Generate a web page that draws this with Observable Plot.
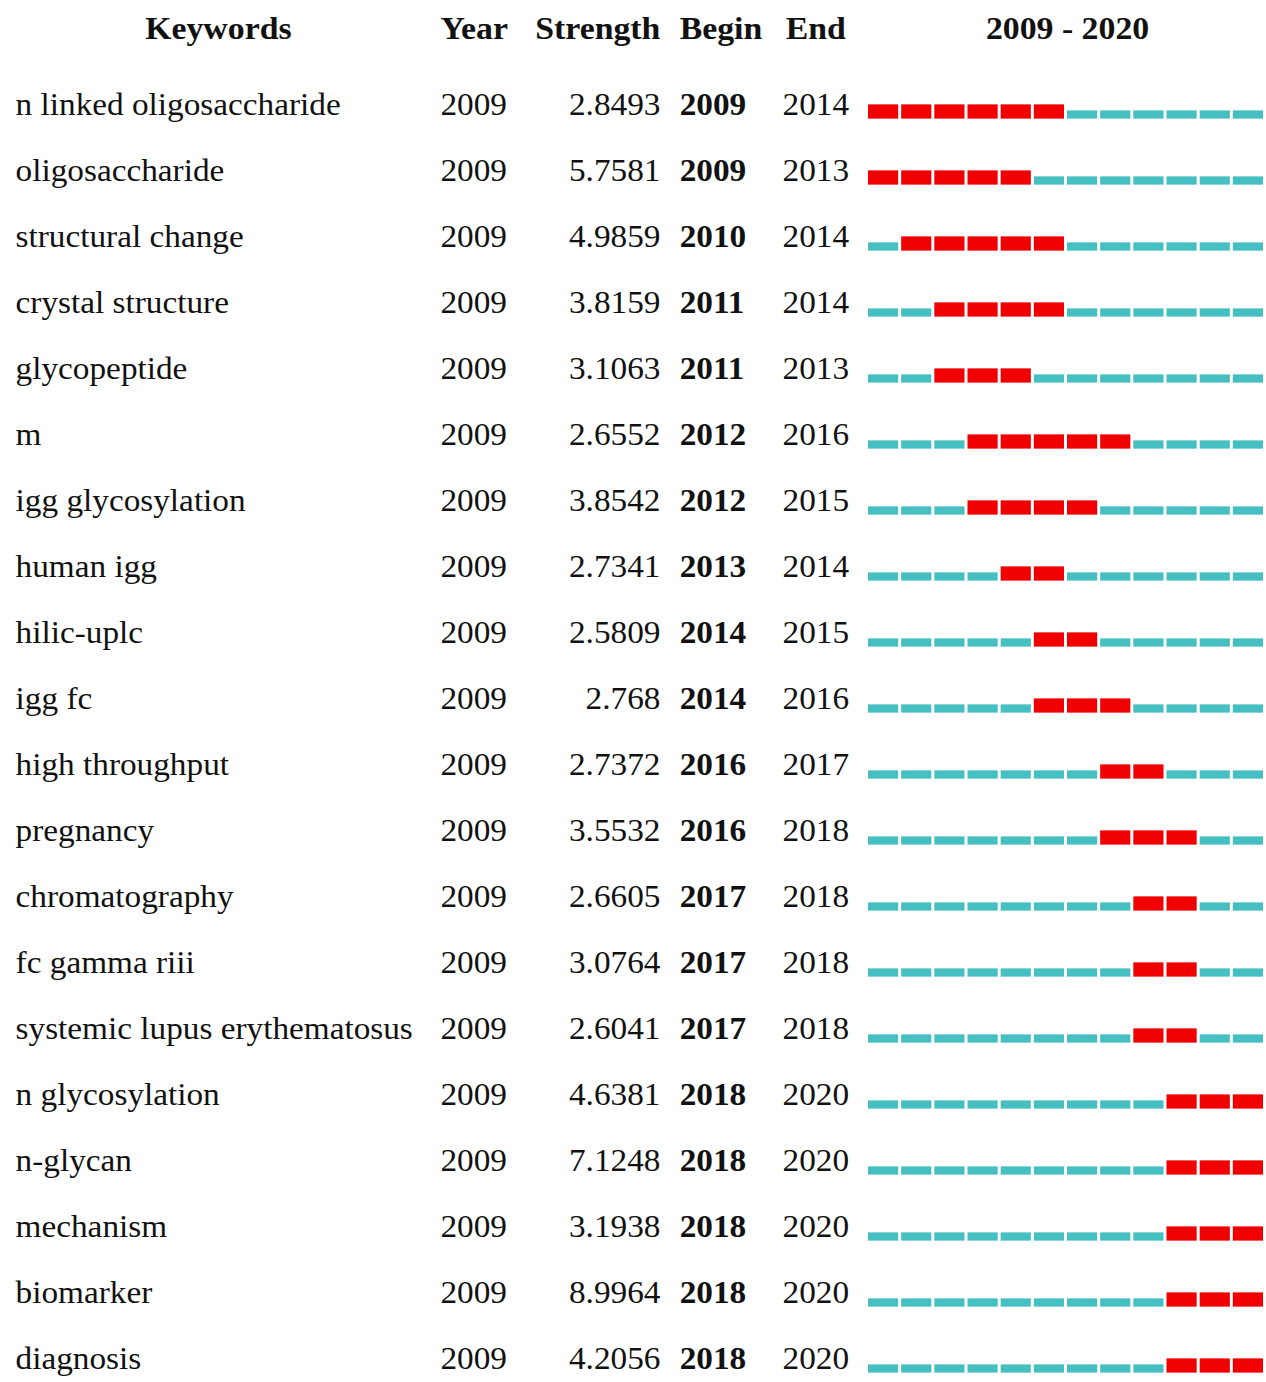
<!DOCTYPE html>
<html>
<head>
<meta charset="utf-8">
<script src="https://cdn.jsdelivr.net/npm/d3@7"></script>
<script src="https://cdn.jsdelivr.net/npm/@observablehq/plot@0.6"></script>
<style>
  html, body { margin: 0; padding: 0; background: #fff; }
  #chart svg { display: block; }
</style>
</head>
<body>
<div id="chart"></div>
<script>
// Keywords with the strongest citation bursts, 2009 - 2020
const keywords = [
  "n linked oligosaccharide", "oligosaccharide", "structural change", "crystal structure",
  "glycopeptide", "m", "igg glycosylation", "human igg", "hilic-uplc", "igg fc",
  "high throughput", "pregnancy", "chromatography", "fc gamma riii",
  "systemic lupus erythematosus", "n glycosylation", "n-glycan", "mechanism",
  "biomarker", "diagnosis"
];
const firstYears = [2009, 2009, 2009, 2009, 2009, 2009, 2009, 2009, 2009, 2009,
                    2009, 2009, 2009, 2009, 2009, 2009, 2009, 2009, 2009, 2009];
const strengths = [2.8493, 5.7581, 4.9859, 3.8159, 3.1063, 2.6552, 3.8542, 2.7341, 2.5809, 2.768,
                   2.7372, 3.5532, 2.6605, 3.0764, 2.6041, 4.6381, 7.1248, 3.1938, 8.9964, 4.2056];
const burstBegin = [2009, 2009, 2010, 2011, 2011, 2012, 2012, 2013, 2014, 2014,
                    2016, 2016, 2017, 2017, 2017, 2018, 2018, 2018, 2018, 2018];
const burstEnd = [2014, 2013, 2014, 2014, 2013, 2016, 2015, 2014, 2015, 2016,
                  2017, 2018, 2018, 2018, 2018, 2020, 2020, 2020, 2020, 2020];
const periodStart = 2009;
const periodEnd = 2020;
const headers = ["Keywords", "Year", "Strength", "Begin", "End"];

// one row per keyword
const rows = keywords.map((k, i) => ({
  keyword: k, year: firstYears[i], strength: strengths[i], begin: burstBegin[i], end: burstEnd[i]
}));

// one timeline cell per keyword and year; burst years are flagged
const years = d3.range(periodStart, periodEnd + 1);
const cells = rows.flatMap(r => years.map(y => ({
  keyword: r.keyword, year: y, burst: y >= r.begin && y <= r.end
})));

// layout (drawing units; the svg is widened slightly to the page width)
const pageW = 1266, pageH = 1382;
const stretch = 1.04;
const W = pageW / stretch;
const rowFirst = 107, rowPitch = 66.75;   // baseline of the first row, row spacing
const half = rowPitch / 2;
const font = "'Liberation Serif', 'Times New Roman', serif";
const ink = "#111";
const fs = 32, hfs = 32.5;
const col = {keyword: 14.5, year: 423, strength: 634.5, begin: 653, end: 752, kwHeader: 209.5};
const headerBaseline = 38;
const timelineLeft = 868 / stretch;

const common = {fontFamily: font, fontSize: fs, fill: ink, lineAnchor: "bottom", frameAnchor: "left"};
const headCommon = {fontFamily: font, fontSize: hfs, fontWeight: "bold", fill: ink,
                    lineAnchor: "bottom", frameAnchor: "top-left", dy: headerBaseline};

const plot = Plot.plot({
  width: W,
  height: pageH,
  margin: 0,
  x: {domain: [periodStart, periodEnd + 1], range: [timelineLeft, W], axis: null},
  y: {type: "band", domain: keywords, padding: 0,
      range: [rowFirst - half, rowFirst - half + keywords.length * rowPitch], axis: null},
  marks: [
    // timeline: quiet years as thin teal segments, burst years as thicker red blocks
    Plot.barX(cells.filter(d => !d.burst), {
      x1: "year", x2: d => d.year + 1, y: "keyword", fill: "#45bfc2",
      insetRight: 3 / stretch, insetTop: half - 4, insetBottom: half - 5
    }),
    Plot.barX(cells.filter(d => d.burst), {
      x1: "year", x2: d => d.year + 1, y: "keyword", fill: "#f00000",
      insetRight: 3 / stretch, insetTop: half - 10, insetBottom: half - 5
    }),
    // table columns
    Plot.text(rows, {...common, y: "keyword", text: "keyword", textAnchor: "start", dx: col.keyword}),
    Plot.text(rows, {...common, y: "keyword", text: d => String(d.year), textAnchor: "start", dx: col.year}),
    Plot.text(rows, {...common, y: "keyword", text: d => String(d.strength), textAnchor: "end", dx: col.strength}),
    Plot.text(rows, {...common, y: "keyword", text: d => String(d.begin), textAnchor: "start", dx: col.begin, fontWeight: "bold"}),
    Plot.text(rows, {...common, y: "keyword", text: d => String(d.end), textAnchor: "start", dx: col.end}),
    // header row
    Plot.text([headers[0]], {...headCommon, text: d => d, textAnchor: "middle", dx: col.kwHeader}),
    Plot.text([headers[1]], {...headCommon, text: d => d, textAnchor: "start", dx: col.year}),
    Plot.text([headers[2]], {...headCommon, text: d => d, textAnchor: "end", dx: col.strength}),
    Plot.text([headers[3]], {...headCommon, text: d => d, textAnchor: "start", dx: col.begin}),
    Plot.text([headers[4]], {...headCommon, text: d => d, textAnchor: "start", dx: col.end + 3}),
    Plot.text([`${periodStart} - ${periodEnd}`], {
      fontFamily: font, fontSize: hfs, fontWeight: "bold", fill: ink, lineAnchor: "bottom",
      x: () => (periodStart + periodEnd + 1) / 2, frameAnchor: "top", dy: headerBaseline,
      text: d => d, textAnchor: "middle"
    })
  ]
});

// the drawing uses slightly narrower units and is widened to the full page width
plot.setAttribute("width", pageW);
plot.setAttribute("height", pageH);
plot.setAttribute("preserveAspectRatio", "none");
plot.style.width = pageW + "px";
plot.style.height = pageH + "px";
plot.style.maxWidth = "none";
plot.style.background = "#fff";
document.getElementById("chart").appendChild(plot);
</script>
</body>
</html>
